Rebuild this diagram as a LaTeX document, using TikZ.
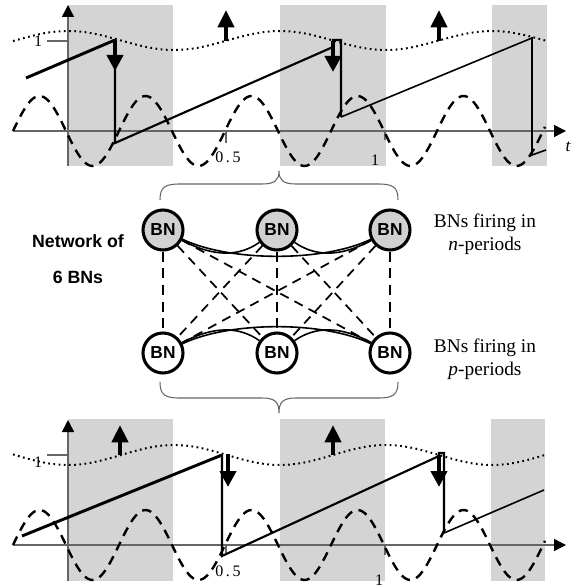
\documentclass[tikz,border=0pt]{standalone}
\usepackage{fontspec}
\setmainfont{Liberation Serif}
\newfontfamily\bnfont{Liberation Sans}
\usetikzlibrary{arrows.meta}

\tikzset{
  bn/.style={circle, draw, line width=2.3pt, minimum size=30pt, inner sep=0pt,
    font=\bnfont\bfseries\fontsize{13}{14}\selectfont},
  bnshade/.style={bn, fill=black!18},
  band/.style={fill=black!17},
  axisline/.style={draw=black!60, line width=1.1pt},
  axisarrow/.style={axisline, -{Triangle[length=9pt,width=9pt,color=black]}},
  inputwave/.style={line width=1.8pt, dash pattern=on 7pt off 5pt},
  thresh/.style={line width=1.5pt, dash pattern=on 1.3pt off 2.6pt},
  saw/.style={line width=1.6pt},
  firedown/.style={line width=3pt, -{Triangle[length=12pt,width=12pt]}},
  fireup/.style={line width=3pt, -{Triangle[length=13pt,width=12pt]}},
  link/.style={line width=1.2pt},
  vlink/.style={line width=1.8pt, dash pattern=on 7.5pt off 5pt},
  xlink/.style={line width=1.3pt, dash pattern=on 7pt off 5pt},
  brace/.style={draw=black!60, line width=0.8pt},
  ticklab/.style={font=\fontsize{12}{13}\selectfont, inner sep=0pt},
  side/.style={align=center, font=\fontsize{14.5}{17.25}\selectfont},
}

\begin{document}
\begin{tikzpicture}[x=0.75pt,y=-0.75pt]
   \useasboundingbox (0,0) rectangle (584,588);

   % upper panel
   \fill[band] (68,5) rectangle (173,166);
   \fill[band] (280,5) rectangle (386,166);
   \fill[band] (492,5) rectangle (547,166);
   \draw[axisarrow] (13,131) -- (566,131);
   \draw[axisarrow] (68,166) -- (68,5);
   \node[ticklab, font=\itshape\fontsize{13}{14}\selectfont] (tlab) at (568,147) {t};
   \draw[axisline] (47,41) -- (68,41);
   \node[ticklab] (oneA) at (38,41) {1};
   \draw[axisline] (226,131) -- (226,143);
   \node[ticklab] (halfA) at (228,157) {0\,.\,5};
   \draw[axisline] (385,131) -- (385,140);
   \node[ticklab] (unitA) at (375,160) {1};

   \draw[inputwave] plot[domain=13:545,samples=240] (\x,{131-35*sin((\x-13)*3.3962)});
   \draw[thresh] plot[domain=13:548,samples=120] (\x,{40.5-9.5*cos((\x-68)*1.6981)});

   \draw[saw, line width=2.2pt] (26,78) -- (115,40);
   \draw[saw] (115,40) -- (115,143) -- (333,47) -- (333,40) -- (341,40) -- (341,117);
   \draw[saw, line width=1.2pt] (341,117) -- (532,38) -- (532,155) -- (546,150);
   \draw[firedown] (115,40) -- (115,71);
   \draw[firedown] (333,41) -- (333,72);
   \draw[fireup] (226,41) -- (226,10);
   \draw[fireup] (439,41) -- (439,10);

   % network
   \draw[brace] (160,200) .. controls (160,187) and (165,184) .. (180,184) -- (262,184)
      .. controls (275,184) and (279,180) .. (279,171) .. controls (279,180) and (283,184) .. (296,184)
      -- (378,184) .. controls (393,184) and (398,187) .. (398,200);
   \draw[brace] (160,382) .. controls (160,395) and (165,398) .. (180,398) -- (262,398)
      .. controls (275,398) and (279,402) .. (279,413) .. controls (279,402) and (283,398) .. (296,398)
      -- (378,398) .. controls (393,398) and (398,395) .. (398,382);

   \node[bnshade] (n1) at (163,230) {BN};
   \node[bnshade] (n2) at (277,230) {BN};
   \node[bnshade] (n3) at (390,230) {BN};
   \node[bn] (p1) at (163,353) {BN};
   \node[bn] (p2) at (277,353) {BN};
   \node[bn] (p3) at (390,353) {BN};

   \draw[vlink] (n1) -- (p1);
   \draw[vlink] (n2) -- (p2);
   \draw[vlink] (n3) -- (p3);
   \draw[xlink] (n1) -- (p2);
   \draw[xlink] (n1) -- (p3);
   \draw[xlink] (n2) -- (p1);
   \draw[xlink] (n2) -- (p3);
   \draw[xlink] (n3) -- (p1);
   \draw[xlink] (n3) -- (p2);

   \draw[link] (n1) .. controls (215,258) and (240,256) .. (n2);
   \draw[link] (n2) .. controls (314,256) and (339,258) .. (n3);
   \draw[link] (n1) .. controls (230,262) and (324,262) .. (n3);
   \draw[link] (p1) .. controls (215,325) and (240,327) .. (p2);
   \draw[link] (p2) .. controls (314,327) and (339,325) .. (p3);
   \draw[link] (p1) .. controls (230,321) and (324,321) .. (p3);

   \node[side, font=\bnfont\bfseries\fontsize{13.3}{27}\selectfont] (net) at (78,259) {Network of\\6 BNs};
   \node[side] (nper) at (485,234) {BNs firing in\\\textit{n}-periods};
   \node[side] (pper) at (485,359) {BNs firing in\\\textit{p}-periods};

   % lower panel
   \fill[band] (68,419) rectangle (173,581);
   \fill[band] (280,419) rectangle (385,581);
   \fill[band] (491,419) rectangle (545,581);
   \draw[axisarrow] (13,545) -- (566,545);
   \draw[axisarrow] (68,581) -- (68,420);
   \draw[axisline] (47,455) -- (68,455);
   \node[ticklab] (oneB) at (38,462) {1};
   \draw[axisline] (226,545) -- (226,553);
   \node[ticklab] (halfB) at (228,571) {0\,.\,5};
   \draw[axisline] (385,545) -- (385,555);
   \node[ticklab] (unitB) at (379,580) {1};

   \draw[inputwave] plot[domain=13:545,samples=240] (\x,{545-35*sin((\x-13)*3.3962)});
   \draw[thresh] plot[domain=13:546,samples=120] (\x,{455+10*cos((\x-68)*1.6981)});

   \draw[saw, line width=2.2pt] (22,536) -- (222,455);
   \draw[saw] (222,455) -- (222,556) -- (439,456) -- (439,453) -- (444,453) -- (444,533);
   \draw[saw, line width=1.2pt] (444,533) -- (544,490);
   \draw[firedown] (228,454) -- (228,487);
   \draw[firedown] (439,455) -- (439,487);
   \draw[fireup] (120,455) -- (120,425);
   \draw[fireup] (333,455) -- (333,425);
\end{tikzpicture}
\end{document}
